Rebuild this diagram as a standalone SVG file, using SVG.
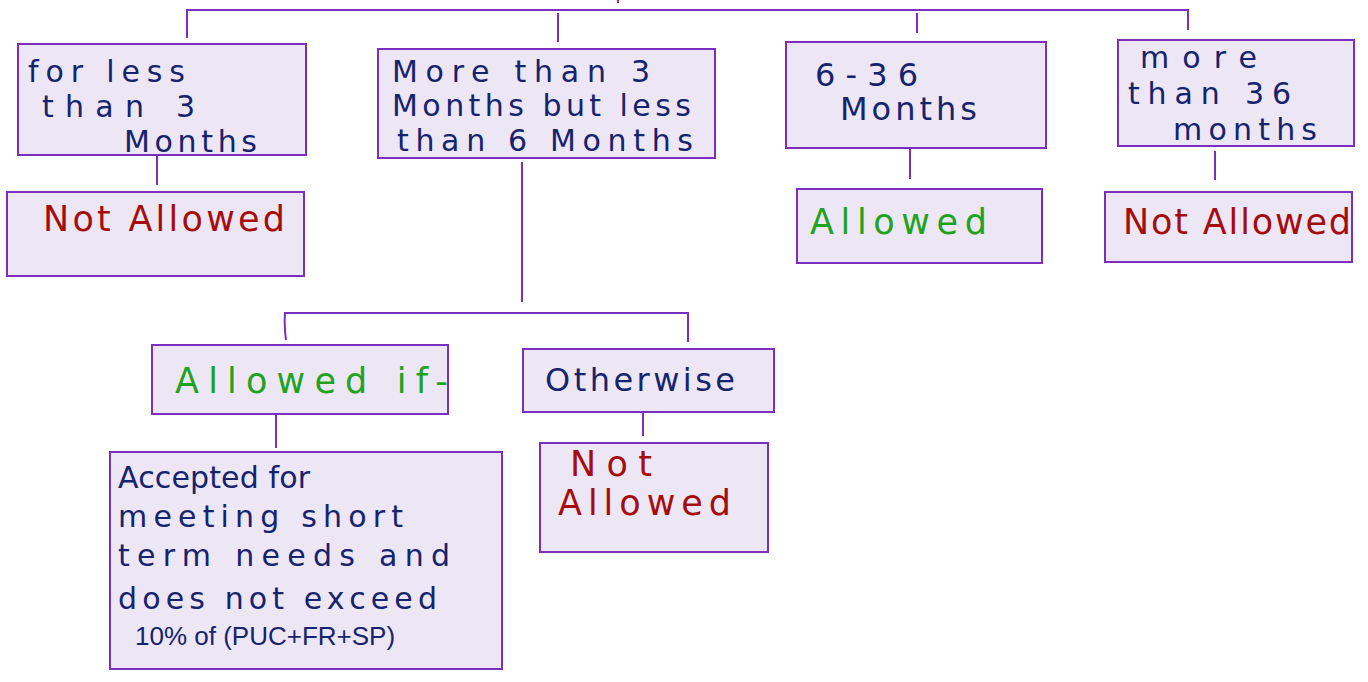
<svg xmlns="http://www.w3.org/2000/svg" width="1368" height="682" viewBox="0 0 1368 682">
<style>
.box{fill:#ede6f4;stroke:#7a2fbf;stroke-width:2}
.ln{stroke:#7a2fbf;stroke-width:2;fill:none}
text{font-family:"DejaVu Sans","Liberation Sans",sans-serif;font-size:32px}
.md{font-size:30px}
.big{font-size:35px}
.sm{font-family:"Liberation Sans","DejaVu Sans",sans-serif;font-size:26px}
.n{fill:#16236e}
.r{fill:#a50d0d}
.g{fill:#1ea31e}
</style>
<rect width="1368" height="682" fill="#ffffff"/>
<g id="connectors">
<path class="ln" d="M187,38 V10 H1188 V30"/>
<path class="ln" d="M618,0 V3"/>
<path class="ln" d="M558,13 V42"/>
<path class="ln" d="M917,13 V33"/>
<path class="ln" d="M157,155 V185"/>
<path class="ln" d="M910,148 V179"/>
<path class="ln" d="M1215,151 V180"/>
<path class="ln" d="M522,162 V302"/>
<path class="ln" d="M286,340 Q284,326 285,313 H688 V342"/>
<path class="ln" d="M276,414 V448"/>
<path class="ln" d="M643,412 V436"/>
</g>
<g id="n1">
<rect class="box" x="18" y="44" width="288" height="111"/>
<text class="n md" x="28" y="82" textLength="157">for less</text>
<text class="n md" x="42" y="117" textLength="153">than 3</text>
<text class="n md" x="124" y="152" textLength="133">Months</text>
</g>
<g id="n2">
<rect class="box" x="378" y="49" width="337" height="109"/>
<text class="n md" x="392" y="82" textLength="258">More than 3</text>
<text class="n md" x="392" y="116" textLength="299">Months but less</text>
<text class="n md" x="397" y="151" textLength="296">than 6 Months</text>
</g>
<g id="n3">
<rect class="box" x="786" y="42" width="260" height="106"/>
<text class="n" x="815" y="86" textLength="103">6-36</text>
<text class="n" x="840" y="120" textLength="137">Months</text>
</g>
<g id="n4">
<rect class="box" x="1118" y="40" width="236" height="106"/>
<text class="n md" x="1140" y="68" textLength="117">more</text>
<text class="n md" x="1128" y="104" textLength="163">than 36</text>
<text class="n md" x="1173" y="140" textLength="144">months</text>
</g>
<g id="n5">
<rect class="box" x="7" y="192" width="297" height="84"/>
<text class="r big" x="43" y="231" textLength="242">Not Allowed</text>
</g>
<g id="n6">
<rect class="box" x="797" y="189" width="245" height="74"/>
<text class="g big" x="810" y="234" textLength="177">Allowed</text>
</g>
<g id="n7">
<rect class="box" x="1105" y="192" width="247" height="70"/>
<text class="r big" x="1123" y="234" textLength="228">Not Allowed</text>
</g>
<g id="n8">
<rect class="box" x="152" y="345" width="296" height="69"/>
<text class="g big" x="175" y="393" textLength="273">Allowed if-</text>
</g>
<g id="n9">
<rect class="box" x="523" y="349" width="251" height="63"/>
<text class="n" x="545" y="391" textLength="190">Otherwise</text>
</g>
<g id="n10">
<rect class="box" x="110" y="452" width="392" height="217"/>
<text class="n md" x="118" y="488" textLength="192">Accepted for</text>
<text class="n md" x="118" y="527" textLength="285">meeting short</text>
<text class="n md" x="118" y="566" textLength="332">term needs and</text>
<text class="n md" x="118" y="609" textLength="319">does not exceed</text>
<text class="n sm" x="135" y="645">10% of (PUC+FR+SP)</text>
</g>
<g id="n11">
<rect class="box" x="540" y="443" width="228" height="109"/>
<text class="r big" x="570" y="476" textLength="82">Not</text>
<text class="r big" x="558" y="515" textLength="173">Allowed</text>
</g>
</svg>
